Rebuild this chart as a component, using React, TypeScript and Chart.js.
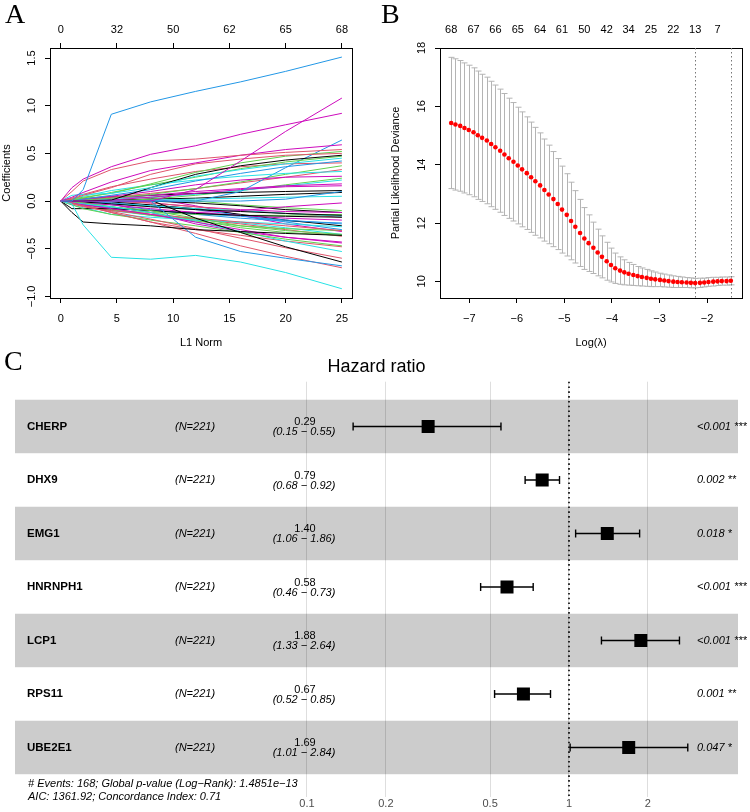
import React, { useEffect, useRef } from "react";
import { Chart, registerables } from "chart.js";

Chart.register(...registerables);

const SANS = '"Liberation Sans", Arial, Helvetica, sans-serif';
const SERIF = '"Liberation Serif", "Times New Roman", Times, serif';
const MINUS = "\u2212";

// ---------------- Panel A : coefficient paths ----------------
const R_COLORS: Record<string, string> = {
  k: "#000000",
  r: "#DF536B",
  g: "#61D04F",
  b: "#2297E6",
  c: "#28E2E5",
  m: "#CD0BBC",
};
const L1_KNOTS = [0, 1, 2, 4.5, 8, 12, 16, 20, 25];
const L1_TICKS = [0, 5, 10, 15, 20, 25];
const DF_TOP_A = [0, 32, 50, 62, 65, 68];
const COEF_TICKS = [-1, -0.5, 0, 0.5, 1, 1.5];
const PATH_COLORS = [
  "b", "m", "m", "r", "m", "r", "c", "g", "k", "g", "b", "r", "c", "m", "b", "g", "r", "m", "m", "k",
  "b", "c", "g", "c", "k", "c", "k", "k", "b", "r", "r", "g", "m", "c", "g", "k", "r", "m", "b", "c",
  "k", "g", "r", "m", "c", "b", "m", "g", "k", "r", "m", "g", "b", "k", "r", "m", "c", "g",
];
const PATHS = [
  [0, 0, 0.12, 0.91, 1.04, 1.15, 1.25, 1.36, 1.51],
  [0, 0, 0, 0, 0, 0.12, 0.42, 0.73, 1.08],
  [0, 0.14, 0.23, 0.36, 0.49, 0.58, 0.7, 0.8, 0.92],
  [0, 0.1, 0.21, 0.33, 0.42, 0.44, 0.48, 0.51, 0.54],
  [0, 0.04, 0.09, 0.2, 0.32, 0.4, 0.48, 0.54, 0.59],
  [0, 0.02, 0.06, 0.14, 0.28, 0.39, 0.44, 0.48, 0.5],
  [0, 0.06, 0.07, 0.08, 0.14, 0.26, 0.33, 0.39, 0.45],
  [0, 0.02, 0.04, 0.08, 0.18, 0.3, 0.4, 0.47, 0.52],
  [0, 0, 0, 0.01, 0.14, 0.28, 0.37, 0.43, 0.48],
  [0, 0.01, 0.03, 0.09, 0.17, 0.25, 0.34, 0.41, 0.47],
  [0, 0.01, 0.02, 0.06, 0.12, 0.21, 0.29, 0.36, 0.42],
  [0, 0.03, 0.07, 0.15, 0.23, 0.31, 0.36, 0.39, 0.4],
  [0, 0.02, 0.05, 0.11, 0.17, 0.22, 0.26, 0.29, 0.31],
  [0, 0.01, 0.02, 0.05, 0.1, 0.17, 0.22, 0.25, 0.26],
  [0, 0, 0, 0, 0, 0, 0.1, 0.35, 0.64],
  [0, 0, 0.01, 0.03, 0.07, 0.13, 0.2, 0.28, 0.37],
  [0, 0.01, 0.02, 0.04, 0.08, 0.13, 0.19, 0.25, 0.33],
  [0, 0, 0.01, 0.03, 0.06, 0.1, 0.13, 0.16, 0.18],
  [0, 0, 0, 0.01, 0.04, 0.08, 0.12, 0.15, 0.16],
  [0, 0.01, 0.02, 0.04, 0.06, 0.08, 0.09, 0.1, 0.11],
  [0, 0, 0, 0, 0, 0, 0, 0.02, 0.1],
  [0, 0, 0.01, 0.02, 0.04, 0.07, 0.11, 0.16, 0.22],
  [0, 0, 0, 0, 0.02, 0.06, 0.11, 0.17, 0.24],
  [0, 0, 0, 0, 0.01, 0.02, 0.03, 0.04, 0.05],
  [0, 0, 0, 0.01, 0.02, 0.03, 0.05, 0.07, 0.09],
  [0, -0.03, -0.25, -0.59, -0.61, -0.57, -0.64, -0.75, -0.92],
  [0, -0.12, -0.22, -0.24, -0.26, -0.3, -0.32, -0.34, -0.36],
  [0, 0, 0, 0, 0.01, -0.18, -0.33, -0.48, -0.64],
  [0, 0, 0, 0, 0, -0.38, -0.53, -0.6, -0.68],
  [0, -0.02, -0.05, -0.12, -0.22, -0.34, -0.47, -0.58, -0.7],
  [0, -0.03, -0.06, -0.11, -0.19, -0.29, -0.39, -0.49, -0.6],
  [0, -0.04, -0.08, -0.14, -0.2, -0.26, -0.33, -0.4, -0.47],
  [0, -0.02, -0.04, -0.08, -0.14, -0.22, -0.3, -0.38, -0.44],
  [0, -0.02, -0.03, -0.06, -0.12, -0.22, -0.32, -0.42, -0.53],
  [0, -0.01, -0.02, -0.06, -0.1, -0.18, -0.26, -0.31, -0.35],
  [0, -0.08, -0.08, -0.08, -0.1, -0.13, -0.15, -0.16, -0.17],
  [0, -0.02, -0.05, -0.1, -0.14, -0.18, -0.22, -0.26, -0.31],
  [0, -0.01, -0.02, -0.04, -0.08, -0.12, -0.15, -0.18, -0.2],
  [0, -0.01, -0.03, -0.07, -0.1, -0.13, -0.16, -0.2, -0.24],
  [0, -0.04, -0.07, -0.14, -0.17, -0.2, -0.22, -0.24, -0.27],
  [0, 0, -0.01, -0.03, -0.06, -0.09, -0.11, -0.13, -0.15],
  [0, -0.02, -0.05, -0.1, -0.12, -0.14, -0.15, -0.15, -0.14],
  [0, 0, -0.04, -0.12, -0.22, -0.3, -0.36, -0.42, -0.48],
  [0, -0.01, -0.03, -0.08, -0.1, -0.12, -0.1, -0.06, -0.02],
  [0, -0.01, -0.02, -0.03, -0.05, -0.08, -0.1, -0.13, -0.16],
  [0, 0, 0, -0.02, -0.05, -0.09, -0.15, -0.22, -0.3],
  [0, 0, 0, -0.03, -0.12, -0.24, -0.32, -0.38, -0.43],
  [0, 0, -0.02, -0.06, -0.12, -0.2, -0.28, -0.33, -0.36],
  [0, 0, 0, -0.01, -0.04, -0.08, -0.14, -0.2, -0.26],
  [0, 0, 0, 0, -0.02, -0.06, -0.1, -0.13, -0.17],
  [0, 0, 0, 0, -0.02, -0.06, -0.09, -0.11, -0.12],
  [0, -0.01, -0.03, -0.09, -0.15, -0.21, -0.26, -0.29, -0.31],
  [0, 0, -0.01, -0.04, -0.09, -0.14, -0.18, -0.21, -0.23],
  [0, 0, 0, 0, 0, -0.02, -0.05, -0.09, -0.12],
  [0, -0.01, -0.03, -0.08, -0.14, -0.19, -0.24, -0.3, -0.37],
  [0, 0, 0.02, 0.05, 0.03, -0.05, -0.15, -0.24, -0.32],
  [0, -0.02, -0.05, -0.1, -0.15, -0.19, -0.23, -0.28, -0.35],
  [0, 0.01, 0.03, 0.05, 0.04, 0.0, -0.04, -0.07, -0.1],
];

// ---------------- Panel B : cross-validation curve ----------------
const LOG_LAMBDA = [
  -7.38, -7.29, -7.19, -7.1, -7.01, -6.91, -6.82, -6.73, -6.63, -6.54,
  -6.45, -6.35, -6.26, -6.17, -6.07, -5.98, -5.89, -5.79, -5.7, -5.61,
  -5.51, -5.42, -5.33, -5.23, -5.14, -5.05, -4.95, -4.86, -4.77, -4.67,
  -4.58, -4.49, -4.39, -4.3, -4.21, -4.11, -4.02, -3.93, -3.83, -3.74,
  -3.65, -3.55, -3.46, -3.37, -3.27, -3.18, -3.09, -2.99, -2.9, -2.81,
  -2.71, -2.62, -2.53, -2.43, -2.34, -2.25, -2.15, -2.06, -1.97, -1.87,
  -1.78, -1.69, -1.59, -1.5,
];
const CV_MEAN = [
  15.43, 15.38, 15.33, 15.26, 15.19, 15.11, 15.01, 14.92, 14.83, 14.71,
  14.6, 14.48, 14.35, 14.22, 14.1, 13.97, 13.84, 13.71, 13.57, 13.43,
  13.29, 13.13, 12.98, 12.82, 12.65, 12.46, 12.28, 12.07, 11.87, 11.66,
  11.47, 11.31, 11.15, 10.99, 10.84, 10.69, 10.56, 10.45, 10.37, 10.31,
  10.26, 10.22, 10.18, 10.15, 10.12, 10.09, 10.07, 10.05, 10.03, 10.01,
  9.99, 9.98, 9.97, 9.96, 9.95, 9.94, 9.95, 9.96, 9.98, 9.99,
  10.0, 10.01, 10.01, 10.02,
];
const CV_SE = [
  2.25, 2.25, 2.24, 2.23, 2.22, 2.21, 2.2, 2.18, 2.17, 2.15,
  2.13, 2.11, 2.09, 2.06, 2.03, 2.0, 1.97, 1.93, 1.89, 1.85,
  1.8, 1.75, 1.69, 1.63, 1.56, 1.49, 1.41, 1.33, 1.24, 1.15,
  1.06, 0.97, 0.88, 0.8, 0.72, 0.65, 0.58, 0.52, 0.47, 0.43,
  0.39, 0.36, 0.33, 0.31, 0.29, 0.27, 0.25, 0.23, 0.22, 0.21,
  0.2, 0.19, 0.18, 0.17, 0.17, 0.16, 0.16, 0.15, 0.15, 0.15,
  0.14, 0.14, 0.14, 0.14,
];
const LOGLAMBDA_TICKS = [-7, -6, -5, -4, -3, -2];
const DEV_TICKS = [10, 12, 14, 16, 18];
const DF_TOP_B_POS = [-7.38, -6.91, -6.45, -5.98, -5.51, -5.05, -4.58, -4.11, -3.65, -3.18, -2.71, -2.25, -1.78];
const DF_TOP_B = [68, 67, 66, 65, 64, 61, 50, 42, 34, 25, 22, 13, 7];
const LAMBDA_LINES = [-2.25, -1.5];

// ---------------- Panel C : forest plot ----------------
const GENES = ["CHERP", "DHX9", "EMG1", "HNRNPH1", "LCP1", "RPS11", "UBE2E1"];
const N_LABELS = ["(N=221)", "(N=221)", "(N=221)", "(N=221)", "(N=221)", "(N=221)", "(N=221)"];
const HR = [0.29, 0.79, 1.4, 0.58, 1.88, 0.67, 1.69];
const HR_LOW = [0.15, 0.68, 1.06, 0.46, 1.33, 0.52, 1.01];
const HR_HIGH = [0.55, 0.92, 1.86, 0.73, 2.64, 0.85, 2.84];
const P_LABELS = ["<0.001 ***", "0.002 **", "0.018 *", "<0.001 ***", "<0.001 ***", "0.001 **", "0.047 *"];
const HR_TICKS = [0.1, 0.2, 0.5, 1, 2];
const FOOTER = [
  "# Events: 168; Global p-value (Log\u2212Rank): 1.4851e\u221213",
  "AIC: 1361.92; Concordance Index: 0.71",
];

const fmt = (v: number, d: number) => v.toFixed(d).replace("-", MINUS);

const rAxisFont = { family: SANS, size: 11 };

function boxAxis(position: string, size: number, extra: any = {}) {
  const horizontal = position === "top" || position === "bottom";
  return {
    position,
    afterFit: (s: any) => {
      if (horizontal) s.height = size;
      else s.width = size;
    },
    border: { display: true, color: "#000", width: 1 },
    ...extra,
  };
}

const cvPlugin = {
  id: "cvBars",
  beforeDatasetsDraw(chart: any) {
    const { ctx, chartArea: ca, scales } = chart;
    const x = scales.x;
    const y = scales.y;
    ctx.save();
    ctx.strokeStyle = "#B4B4B4";
    ctx.lineWidth = 1;
    LOG_LAMBDA.forEach((lx, i) => {
      const px = Math.round(x.getPixelForValue(lx)) + 0.5;
      const yu = y.getPixelForValue(CV_MEAN[i] + CV_SE[i]);
      const yl = y.getPixelForValue(CV_MEAN[i] - CV_SE[i]);
      ctx.beginPath();
      ctx.moveTo(px, yu);
      ctx.lineTo(px, yl);
      ctx.moveTo(px - 3, yu);
      ctx.lineTo(px + 3, yu);
      ctx.moveTo(px - 3, yl);
      ctx.lineTo(px + 3, yl);
      ctx.stroke();
    });
    ctx.strokeStyle = "#777";
    ctx.setLineDash([1.5, 2.5]);
    LAMBDA_LINES.forEach((v) => {
      const px = Math.round(x.getPixelForValue(v)) + 0.5;
      ctx.beginPath();
      ctx.moveTo(px, ca.top);
      ctx.lineTo(px, ca.bottom);
      ctx.stroke();
    });
    ctx.restore();
  },
};

const forestPlugin = {
  id: "forestDecor",
  beforeDatasetsDraw(chart: any) {
    const { ctx, chartArea: ca, scales } = chart;
    const x = scales.x;
    const y = scales.y;
    ctx.save();
    ctx.fillStyle = "rgba(0,0,0,0.2)";
    GENES.forEach((_, i) => {
      if (i % 2 === 0) {
        const y0 = y.getPixelForValue(i - 0.5);
        const y1 = y.getPixelForValue(i + 0.5);
        ctx.fillRect(ca.left, Math.min(y0, y1), ca.right - ca.left, Math.abs(y1 - y0));
      }
    });
    const x1 = x.getPixelForValue(1);
    ctx.strokeStyle = "#000";
    ctx.lineWidth = 1.6;
    ctx.setLineDash([1.6, 3.2]);
    ctx.beginPath();
    ctx.moveTo(x1, ca.top);
    ctx.lineTo(x1, ca.bottom);
    ctx.stroke();
    ctx.setLineDash([]);
    ctx.lineWidth = 1.4;
    HR.forEach((_, i) => {
      const yc = y.getPixelForValue(i);
      const cap = Math.abs(y.getPixelForValue(0.075) - y.getPixelForValue(0));
      const xl = x.getPixelForValue(HR_LOW[i]);
      const xh = x.getPixelForValue(HR_HIGH[i]);
      ctx.beginPath();
      ctx.moveTo(xl, yc);
      ctx.lineTo(xh, yc);
      ctx.moveTo(xl, yc - cap);
      ctx.lineTo(xl, yc + cap);
      ctx.moveTo(xh, yc - cap);
      ctx.lineTo(xh, yc + cap);
      ctx.stroke();
    });
    ctx.restore();
  },
  afterDatasetsDraw(chart: any) {
    const { ctx, scales } = chart;
    const y = scales.y;
    ctx.save();
    ctx.fillStyle = "#000";
    ctx.textBaseline = "middle";
    GENES.forEach((g, i) => {
      const yc = y.getPixelForValue(i);
      ctx.textAlign = "left";
      ctx.font = `bold 11.5px ${SANS}`;
      ctx.fillText(g, 27, yc);
      ctx.font = `italic 11px ${SANS}`;
      ctx.fillText(N_LABELS[i], 175, yc);
      ctx.fillText(P_LABELS[i], 697, yc);
      ctx.textAlign = "center";
      ctx.font = `11px ${SANS}`;
      ctx.fillText(HR[i].toFixed(2), 305, yc - 4.5);
      ctx.font = `italic 11px ${SANS}`;
      ctx.fillText(`(${HR_LOW[i].toFixed(2)} ${MINUS} ${HR_HIGH[i].toFixed(2)})`, 304, yc + 5.5);
    });
    const yLast = y.getPixelForValue(GENES.length - 1);
    ctx.textAlign = "left";
    ctx.font = `italic 11px ${SANS}`;
    ctx.fillText(FOOTER[0], 28, yLast + 36.5);
    ctx.fillText(FOOTER[1], 28, yLast + 49.5);
    ctx.restore();
  },
};

export default function App() {
  const aRef = useRef<HTMLCanvasElement>(null);
  const bRef = useRef<HTMLCanvasElement>(null);
  const cRef = useRef<HTMLCanvasElement>(null);

  useEffect(() => {
    const common = {
      responsive: false,
      animation: false as const,
      events: [] as any[],
      layout: { padding: 0 },
    };

    const chartA = new Chart(aRef.current as HTMLCanvasElement, {
      type: "line",
      data: {
        datasets: PATHS.map((p, i) => ({
          data: p.map((v, j) => ({ x: L1_KNOTS[j], y: v })),
          borderColor: R_COLORS[PATH_COLORS[i % PATH_COLORS.length]],
          borderWidth: 1,
          pointRadius: 0,
          fill: false,
          tension: 0,
        })),
      },
      options: {
        ...common,
        plugins: { legend: { display: false }, tooltip: { enabled: false } },
        scales: {
          x: boxAxis("bottom", 57, {
            type: "linear",
            min: -0.95,
            max: 25.9,
            afterBuildTicks: (s: any) => {
              s.ticks = L1_TICKS.map((v) => ({ value: v }));
            },
            ticks: { color: "#000", font: rAxisFont, padding: 9, maxRotation: 0, minRotation: 0, autoSkip: false, callback: (v: any) => String(v) },
            grid: { drawOnChartArea: false, drawTicks: true, tickLength: 5, color: "#000" },
            title: { display: true, text: "L1 Norm", color: "#000", font: rAxisFont, padding: { top: 0, bottom: 5 } },
          }),
          xTop: boxAxis("top", 48, {
            type: "linear",
            min: -0.95,
            max: 25.9,
            afterBuildTicks: (s: any) => {
              s.ticks = L1_TICKS.map((v) => ({ value: v }));
            },
            ticks: { color: "#000", font: rAxisFont, padding: 6, maxRotation: 0, minRotation: 0, autoSkip: false, callback: (_v: any, i: number) => String(DF_TOP_A[i]) },
            grid: { drawOnChartArea: false, drawTicks: true, tickLength: 5, color: "#000" },
          }),
          y: boxAxis("left", 50, {
            type: "linear",
            min: -1.017,
            max: 1.605,
            afterBuildTicks: (s: any) => {
              s.ticks = COEF_TICKS.map((v) => ({ value: v }));
            },
            ticks: { color: "#000", font: rAxisFont, padding: 2, minRotation: 90, maxRotation: 90, crossAlign: "center", autoSkip: false, callback: (v: any) => fmt(Number(v), 1) },
            grid: { drawOnChartArea: false, drawTicks: true, tickLength: 5, color: "#000" },
            title: { display: true, text: "Coefficients", color: "#000", font: rAxisFont, padding: { top: 0, bottom: 0 } },
          }),
          yRight: boxAxis("right", 23, {
            type: "linear",
            min: -1.017,
            max: 1.605,
            ticks: { display: false },
            grid: { display: false },
          }),
        },
      } as any,
    });

    const chartB = new Chart(bRef.current as HTMLCanvasElement, {
      type: "scatter",
      data: {
        datasets: [
          {
            data: LOG_LAMBDA.map((v, i) => ({ x: v, y: CV_MEAN[i] })),
            pointRadius: 2.3,
            pointBackgroundColor: "#FF0000",
            pointBorderWidth: 0,
            borderWidth: 0,
          },
        ],
      },
      options: {
        ...common,
        plugins: { legend: { display: false }, tooltip: { enabled: false } },
        scales: {
          x: boxAxis("bottom", 57, {
            type: "linear",
            min: -7.615,
            max: -1.265,
            afterBuildTicks: (s: any) => {
              s.ticks = LOGLAMBDA_TICKS.map((v) => ({ value: v }));
            },
            ticks: { color: "#000", font: rAxisFont, padding: 9, maxRotation: 0, minRotation: 0, autoSkip: false, callback: (v: any) => fmt(Number(v), 0) },
            grid: { drawOnChartArea: false, drawTicks: true, tickLength: 5, color: "#000" },
            title: { display: true, text: "Log(\u03bb)", color: "#000", font: rAxisFont, padding: { top: 0, bottom: 5 } },
          }),
          xTop: boxAxis("top", 48, {
            type: "linear",
            min: -7.615,
            max: -1.265,
            afterBuildTicks: (s: any) => {
              s.ticks = DF_TOP_B_POS.map((v) => ({ value: v }));
            },
            ticks: { color: "#000", font: rAxisFont, padding: 11, maxRotation: 0, minRotation: 0, autoSkip: false, callback: (_v: any, i: number) => String(DF_TOP_B[i]) },
            grid: { drawOnChartArea: false, drawTicks: false, display: false },
          }),
          y: boxAxis("left", 65, {
            type: "linear",
            min: 9.43,
            max: 18.0,
            afterBuildTicks: (s: any) => {
              s.ticks = DEV_TICKS.map((v) => ({ value: v }));
            },
            ticks: { color: "#000", font: rAxisFont, padding: 7, minRotation: 90, maxRotation: 90, crossAlign: "center", autoSkip: false, callback: (v: any) => String(v) },
            grid: { drawOnChartArea: false, drawTicks: true, tickLength: 5, color: "#000" },
            title: { display: true, text: "Partial Likelihood Deviance", color: "#000", font: rAxisFont, padding: { top: 14, bottom: 0 } },
          }),
          yRight: boxAxis("right", 8, {
            type: "linear",
            min: 9.43,
            max: 18.0,
            ticks: { display: false },
            grid: { display: false },
          }),
        },
      } as any,
      plugins: [cvPlugin],
    });

    const chartC = new Chart(cRef.current as HTMLCanvasElement, {
      type: "scatter",
      data: {
        datasets: [
          {
            data: HR.map((v, i) => ({ x: v, y: i })),
            pointStyle: "rect",
            pointRadius: 9.2,
            pointBackgroundColor: "#000",
            pointBorderWidth: 0,
            borderWidth: 0,
          },
        ],
      },
      options: {
        ...common,
        layout: { padding: { left: 15, right: 12, top: 0, bottom: 0 } },
        plugins: {
          legend: { display: false },
          tooltip: { enabled: false },
          title: {
            display: true,
            text: "Hazard ratio",
            color: "#000",
            font: { family: SANS, size: 18, weight: "normal" },
            padding: { top: 1.5, bottom: 3.6 },
          },
        },
        scales: {
          x: {
            type: "logarithmic",
            position: "bottom",
            min: 0.007685,
            max: 4.4157,
            afterBuildTicks: (s: any) => {
              s.ticks = HR_TICKS.map((v) => ({ value: v }));
            },
            afterFit: (s: any) => {
              s.height = 15.3;
            },
            ticks: { color: "#4D4D4D", font: rAxisFont, padding: 1, maxRotation: 0, minRotation: 0, autoSkip: false, callback: (v: any) => String(v) },
            grid: { color: "#DEDEDE", lineWidth: 1, drawTicks: false },
            border: { display: false },
          },
          y: {
            type: "linear",
            reverse: true,
            min: -0.837,
            max: 6.92,
            display: false,
          },
        },
      } as any,
      plugins: [forestPlugin],
    });

    return () => {
      chartA.destroy();
      chartB.destroy();
      chartC.destroy();
    };
  }, []);

  const letter = (t: string, left: number, top: number) => (
    <div
      style={{
        position: "absolute",
        left,
        top,
        fontFamily: SERIF,
        fontSize: 28,
        lineHeight: "28px",
        color: "#000",
      }}
    >
      {t}
    </div>
  );

  return (
    <div style={{ position: "absolute", left: 0, top: 0, width: 750, height: 812, background: "#fff", overflow: "hidden" }}>
      <canvas ref={aRef} width={375} height={355} style={{ position: "absolute", left: 0, top: 0, width: 375, height: 355 }} />
      <canvas ref={bRef} width={375} height={355} style={{ position: "absolute", left: 375, top: 0, width: 375, height: 355 }} />
      <canvas ref={cRef} width={750} height={457} style={{ position: "absolute", left: 0, top: 355, width: 750, height: 457 }} />
      {letter("A", 5, 0)}
      {letter("B", 381, 0)}
      {letter("C", 4, 347)}
    </div>
  );
}
